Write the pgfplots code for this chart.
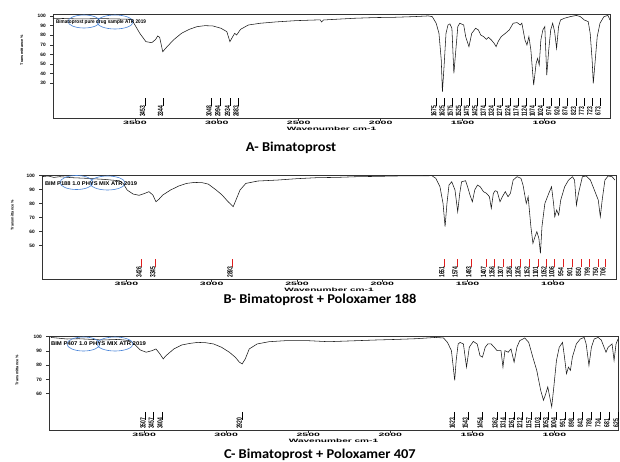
\documentclass[border=0pt]{standalone}
\usepackage{pgfplots}
\usepackage{pgfplotstable}
\pgfplotsset{compat=1.18}
\usepackage{fontspec}
\setmainfont{Liberation Sans}
\newfontfamily\capfont{Carlito}
\definecolor{logoblue}{RGB}{70,130,215}
\definecolor{peakred}{RGB}{225,30,30}

\pgfplotstableread{
w T
4000 97.6
3843 96.9
3699 97.2
3518 96.5
3506 92.4
3470 81.9
3433 73.3
3397 72.2
3373 75.7
3361 79.2
3349 77.8
3330 62.8
3313 66.3
3265 75.0
3216 81.9
3168 86.1
3120 88.9
3072 89.9
3024 89.6
2975 87.2
2939 83.7
2920 73.3
2903 78.5
2891 81.9
2879 80.2
2855 86.1
2807 90.6
2734 92.4
2638 93.8
2517 95.1
2397 95.8
2368 95.8
2361 93.8
2348 95.8
2276 96.5
2156 97.6
2035 98.3
1914 98.6
1794 99.3
1710 100
1685 99.3
1661 92.4
1644 81.9
1630 54.2
1623 21.2
1613 47.2
1601 81.9
1589 90.6
1577 91.7
1565 87.2
1553 40.3
1541 64.6
1529 88.9
1517 92.4
1493 90.6
1481 78.5
1461 68.1
1444 81.9
1420 87.2
1403 85.4
1389 80.2
1372 78.5
1355 75.7
1341 77.8
1324 75.0
1307 71.5
1295 68.1
1283 73.3
1264 78.5
1239 81.9
1215 85.4
1191 92.4
1167 93.1
1148 90.6
1138 92.4
1119 75.0
1107 69.8
1095 78.5
1083 64.6
1066 28.1
1051 50.7
1042 55.9
1032 49.0
1022 75.0
1010 85.4
998 88.9
986 38.5
974 64.6
962 85.4
950 92.4
938 83.7
926 66.3
914 88.9
902 95.8
878 97.6
842 99.3
805 100.5
781 99.3
757 95.8
733 94.1
721 81.9
709 54.2
702 29.9
690 54.2
678 78.5
661 92.4
637 99.3
613 100.5
600 95.8
}\specA

\pgfplotstableread{
w T
3995 99.3
3960 99.8
3925 98.8
3891 99.3
3821 98.6
3728 98.1
3635 97.4
3542 96.4
3519 94.5
3496 89.8
3461 86.9
3426 86.0
3392 87.4
3368 88.6
3345 86.2
3327 81.4
3310 83.1
3287 86.2
3241 89.8
3194 92.6
3148 94.5
3101 95.2
3055 95.0
3020 94.0
2974 89.8
2939 86.2
2904 81.4
2874 77.9
2858 82.6
2834 89.8
2800 94.5
2730 96.2
2614 96.9
2498 97.9
2382 98.6
2266 98.8
2150 99.3
2034 99.5
1918 99.8
1709 100
1686 98.1
1662 92.1
1644 80.2
1632 63.6
1621 80.2
1609 93.3
1593 95.7
1574 89.8
1558 74.3
1546 87.4
1535 95.7
1512 96.4
1500 92.1
1486 86.2
1472 81.4
1458 89.8
1442 93.3
1426 92.1
1407 88.6
1389 87.4
1372 85.0
1361 76.7
1349 87.4
1338 89.3
1326 88.6
1310 81.4
1296 85.0
1279 88.6
1263 85.0
1249 87.4
1233 96.9
1210 99.3
1187 98.1
1175 93.3
1156 80.2
1145 85.0
1129 63.6
1117 51.7
1105 56.4
1094 60.0
1082 55.2
1073 44.5
1064 63.6
1047 80.2
1024 87.4
1008 92.1
996 80.2
989 70.7
978 75.5
966 71.9
954 82.6
931 92.1
908 96.9
885 99.3
873 96.9
862 79.0
850 87.4
827 99.3
804 99.8
780 96.9
757 89.8
734 82.6
722 70.7
711 82.6
695 96.9
676 99.8
653 99.3
637 96.9
}\specB

\pgfplotstableread{
w T
4068 99.5
3971 98.4
3899 98.6
3754 97.7
3657 98.1
3585 97.2
3561 94.9
3524 90.7
3488 89.1
3452 90.2
3428 91.4
3404 87.9
3384 84.4
3367 86.7
3319 91.4
3271 94.2
3222 95.3
3174 96.0
3126 95.8
3077 94.9
3029 92.6
2981 89.1
2945 85.6
2920 82.1
2903 80.9
2884 84.4
2860 91.4
2812 94.9
2739 96.5
2642 97.2
2498 97.2
2377 96.5
2208 97.2
2087 97.7
1966 98.1
1845 98.6
1724 99.5
1676 99.1
1652 96.0
1628 90.2
1608 69.3
1599 83.3
1587 94.9
1575 96.0
1555 94.9
1536 78.6
1519 92.6
1495 96.7
1471 94.9
1454 86.7
1439 85.6
1422 92.6
1406 94.9
1386 94.9
1367 92.6
1350 90.2
1326 90.2
1314 78.6
1302 90.2
1282 89.1
1265 91.4
1246 82.1
1229 92.6
1212 97.2
1181 99.1
1157 96.0
1132 85.6
1108 76.3
1084 62.3
1067 55.3
1053 60.0
1041 64.7
1029 57.7
1017 50.7
1004 64.7
988 83.3
971 92.6
951 96.0
939 85.6
927 74.0
915 78.6
903 76.3
891 85.6
867 94.9
843 98.4
819 99.5
807 94.9
790 79.8
775 92.6
758 98.4
734 99.5
715 97.7
698 92.6
686 89.1
673 92.6
649 94.9
637 83.3
625 94.9
613 98.4
}\specC

\pgfplotstableread{
w lab
3453 3453
3344 3344
3048 3048
2994 2994
2934 2934
2883 2883
1675 1675
1625 1625
1575 1575
1525 1525
1475 1475
1425 1425
1374 1374
1324 1324
1274 1274
1224 1224
1174 1174
1124 1124
1074 1074
1024 1024
974 974
924 924
874 874
823 823
773 773
723 723
673 673
}\peaksA

\pgfplotstableread{
w lab
3426 3426
3345 3345
2893 2893
1651 1651
1574 1574
1493 1493
1407 1407
1356 1356
1307 1307
1256 1256
1205 1205
1152 1152
1101 1101
1052 1052
1006 1006
954 954
901 901
850 850
799 799
750 750
706 706
}\peaksB

\pgfplotstableread{
w lab
3507 3507
3457 3457
3404 3404
2920 2920
1623 1623
1543 1543
1454 1454
1362 1362
1314 1314
1261 1261
1212 1212
1157 1157
1103 1103
1053 1053
1004 1004
951 951
898 898
843 843
789 789
734 734
681 681
625 625
}\peaksC

\pgfplotsset{
  ftir/.style={
    scale only axis,
    anchor=north west,
    x dir=reverse,
    axis line style={line width=0.75pt, black!80},
    tick pos=left,
    tick align=outside,
    xtick={1000,1500,2000,2500,3000,3500},
    major tick length=2.5pt,
    every tick/.style={black!80, line width=0.5pt},
    ticklabel style={font=\fontsize{4.8}{5}\selectfont\bfseries, inner sep=0.6pt},
    /pgf/number format/assume math mode=true,
    /pgf/number format/1000 sep={},
    xticklabel={\scalebox{2.2}[1]{\pgfmathprintnumber{\tick}}},
    yticklabel style={xshift=-4pt},
    xlabel={\scalebox{2.1}[1]{Wavenumber cm-1}},
    every axis x label/.style={at={(axis description cs:0.5,0)}, anchor=center, yshift=-11pt, font=\fontsize{4.8}{5}\selectfont\bfseries, inner sep=0pt},
    ylabel={Transmittance \%},
    every axis y label/.style={rotate=90, anchor=center, font=\fontsize{3.8}{4}\selectfont\bfseries, inner sep=0pt},
  },
  spec/.style={black!90, line width=0.55pt, mark=none},
  peakline/.style={only marks, mark=|, mark size=4pt, mark options={xshift=2.5pt, line width=0.55pt}},
  peaklab/.style={draw=none, mark=none, nodes near coords={\scalebox{1}[1.5]{\pgfplotspointmeta}}, point meta=explicit symbolic,
    every node near coord/.style={rotate=90, anchor=center, inner sep=0pt, font=\fontsize{5}{5}\selectfont\bfseries}},
}

\newcommand{\logotext}[4]{\node[inner sep=0pt] at (#1,#2) {\resizebox{#3pt}{3.8pt}{\bfseries #4}};}

\begin{document}
\begin{tikzpicture}[x=1pt,y=1pt]
\useasboundingbox (0,0) rectangle (620,-461);

% ---------------- A ----------------
\begin{axis}[ftir, at={(53pt,-14pt)}, width=557pt, height=104pt,
  xmin=600, xmax=4000, ymin=-6, ymax=102, ytick={30,40,...,100},
  ylabel style={at={(axis description cs:-0.056,0.654)}}]
\addplot[spec] table[x=w,y=T] {\specA};
\addplot[peakline, black] table[x=w, y expr=10.4] {\peaksA};
\addplot[peaklab] table[x=w, y expr=1.0, meta=lab] {\peaksA};
\end{axis}
\draw[logoblue, line width=0.6pt] (84,-21.5) ellipse [x radius=16, y radius=6.5];
\draw[logoblue, line width=0.6pt] (115,-22) ellipse [x radius=18, y radius=7];
\logotext{101}{-22}{90}{Bimatoprost pure drug sample ATR 2019}
\node[font=\capfont\fontsize{13.5}{14}\selectfont\bfseries] at (291,-148) {\scalebox{1.07}[1]{A- Bimatoprost}};

% ---------------- B ----------------
\begin{axis}[ftir, at={(42pt,-175pt)}, width=574pt, height=104pt,
  xmin=630, xmax=3995, ymin=26.2, ymax=100.5, ytick={50,60,...,100},
  ylabel style={at={(axis description cs:-0.052,0.615)}}]
\addplot[spec] table[x=w,y=T] {\specB};
\addplot[peakline, peakred] table[x=w, y expr=37.4] {\peaksB};
\addplot[peaklab] table[x=w, y expr=31.2, meta=lab] {\peaksB};
\end{axis}
\draw[logoblue, line width=0.6pt] (76.5,-182.5) ellipse [x radius=16.5, y radius=7];
\draw[logoblue, line width=0.6pt] (107.5,-183) ellipse [x radius=17.5, y radius=7];
\logotext{91}{-183.3}{92}{BIM P188 1.0 PHYS MIX ATR 2019}
\node[font=\capfont\fontsize{13.5}{14}\selectfont\bfseries] at (320,-300) {\scalebox{1.07}[1]{B- Bimatoprost + Poloxamer 188}};

% ---------------- C ----------------
\begin{axis}[ftir, at={(49pt,-336pt)}, width=569pt, height=94pt,
  xmin=613, xmax=4080, ymin=34.4, ymax=100.5, ytick={60,70,...,100},
  ylabel style={at={(axis description cs:-0.056,0.638)}}]
\addplot[spec] table[x=w,y=T] {\specC};
\addplot[peakline, black] table[x=w, y expr=44.4] {\peaksC};
\addplot[peaklab] table[x=w, y expr=39.1, meta=lab] {\peaksC};
\end{axis}
\draw[logoblue, line width=0.6pt] (83.5,-344) ellipse [x radius=16.5, y radius=7];
\draw[logoblue, line width=0.6pt] (115,-344) ellipse [x radius=18, y radius=7];
\logotext{98.5}{-344}{95}{BIM P407 1.0 PHYS MIX ATR 2019}
\node[font=\capfont\fontsize{13.5}{14}\selectfont\bfseries] at (320,-455) {\scalebox{1.07}[1]{C- Bimatoprost + Poloxamer 407}};
\end{tikzpicture}
\end{document}
